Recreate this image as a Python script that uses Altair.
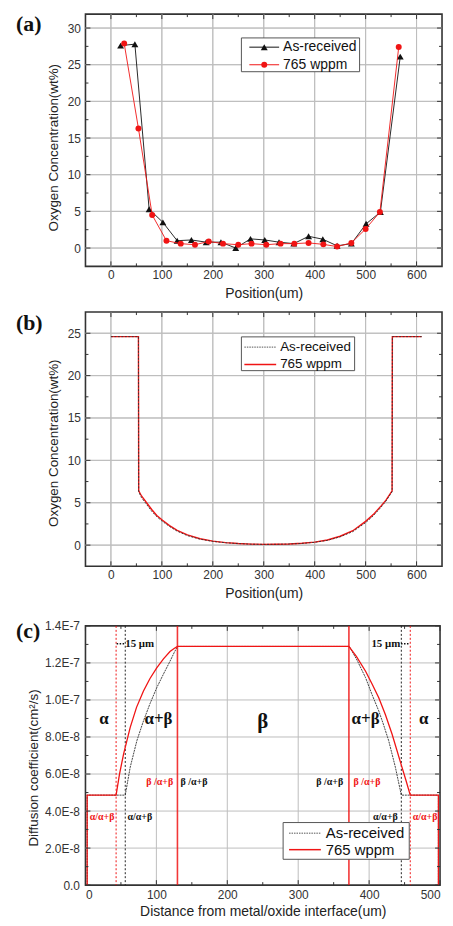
import altair as alt
import pandas as pd

# ---------------- data: panel (a) ----------------
A_AS_X = [19, 47, 75, 102, 130, 158, 187, 216, 245, 274, 302, 330, 359, 388, 416, 444, 472, 501, 529, 568]
A_AS_Y = [27.6, 27.8, 5.3, 3.5, 1.0, 1.1, 0.8, 0.8, 0.0, 1.25, 1.1, 0.8, 0.6, 1.6, 1.2, 0.3, 0.6, 3.3, 4.9, 26.1]
A_765_X = [26, 54, 81, 109, 137, 165, 192, 220, 250, 276, 305, 333, 360, 388, 417, 444, 472, 500, 528, 565]
A_765_Y = [27.9, 16.3, 4.5, 1.0, 0.6, 0.45, 0.9, 0.6, 0.45, 0.6, 0.45, 0.6, 0.6, 0.7, 0.5, 0.2, 0.7, 2.6, 4.9, 27.4]
A_X_DOMAIN = [-50, 650]
A_Y_DOMAIN = [-2.5, 31.9]
A_X_MAJOR = [0, 100, 200, 300, 400, 500, 600]
A_X_MINOR = [50, 150, 250, 350, 450, 550]
A_Y_MAJOR = [0, 5, 10, 15, 20, 25, 30]
A_Y_MINOR = [2.5, 7.5, 12.5, 17.5, 22.5, 27.5]

# ---------------- data: panel (b) ----------------
B_X = [0, 54, 54.5, 60, 70, 80, 90, 100, 115, 130, 150, 175, 200, 225, 250, 275, 300,
       325, 350, 375, 400, 425, 450, 475, 500, 515, 530, 540, 552, 552.5, 610]
B_765_Y = [24.6, 24.6, 6.4, 5.8, 5.0, 4.2, 3.5, 3.0, 2.3, 1.75, 1.2, 0.75, 0.47, 0.3, 0.19, 0.12, 0.09,
           0.1, 0.14, 0.22, 0.35, 0.6, 1.05, 1.7, 2.8, 3.6, 4.6, 5.3, 6.4, 24.6, 24.6]
B_AS_Y = [24.6, 24.6, 6.3, 5.6, 4.8, 4.0, 3.35, 2.85, 2.2, 1.65, 1.12, 0.7, 0.44, 0.28, 0.18, 0.11, 0.09,
          0.1, 0.13, 0.2, 0.33, 0.56, 0.98, 1.6, 2.65, 3.45, 4.45, 5.2, 6.3, 24.6, 24.6]
B_X_DOMAIN = [-50, 650]
B_Y_DOMAIN = [-2.5, 27.5]
B_Y_MAJOR = [0, 5, 10, 15, 20, 25]
B_Y_MINOR = [2.5, 7.5, 12.5, 17.5, 22.5]

# ---------------- data: panel (c) ----------------
C_765_X = [2.4, 2.4, 43.2, 48, 53.8, 63.1, 72, 81.8, 91, 100.5, 110, 119.2, 125, 129.7,
           371.5, 382, 395, 404, 413.6, 423, 432.3, 446.3, 452, 458, 497.7, 497.7]
C_765_Y = [0, 4.86e-8, 4.86e-8, 6.0e-8, 7.09e-8, 8.52e-8, 9.6e-8, 1.048e-7, 1.116e-7, 1.173e-7, 1.222e-7,
           1.262e-7, 1.278e-7, 1.289e-7, 1.289e-7, 1.235e-7, 1.155e-7, 1.088e-7, 1.012e-7, 9.2e-8, 8.16e-8,
           6.37e-8, 5.65e-8, 4.86e-8, 4.86e-8, 0]
C_AS_X = [2.4, 2.4, 56.1, 63.1, 72.5, 81.8, 91, 100.5, 110, 119.2, 125, 129.7,
          372, 383, 395, 404, 413.6, 420, 427.6, 437, 445.4, 497.7, 497.7]
C_AS_Y = [0, 4.86e-8, 4.86e-8, 6.37e-8, 7.8e-8, 8.87e-8, 9.8e-8, 1.066e-7, 1.14e-7, 1.209e-7, 1.255e-7,
          1.289e-7, 1.289e-7, 1.215e-7, 1.12e-7, 1.03e-7, 9.41e-8, 8.7e-8, 7.8e-8, 6.37e-8, 4.86e-8,
          4.86e-8, 0]
C_VL_RED_DOT = [43.2, 458]
C_VL_BLK_DOT = [56.1, 445.4]
C_VL_RED_SOLID = [129.7, 371.5]
C_X_MAJOR = [0, 100, 200, 300, 400, 500]
C_X_MINOR = [50, 150, 250, 350, 450]
C_Y_MAJOR = [0, 2e-8, 4e-8, 6e-8, 8e-8, 1e-7, 1.2e-7, 1.4e-7]
C_Y_MINOR = [1e-8, 3e-8, 5e-8, 7e-8, 9e-8, 1.1e-7, 1.3e-7]
C_Y_LABELS = ["0.0", "2.0E-8", "4.0E-8", "6.0E-8", "8.0E-8", "1.0E-7", "1.2E-7", "1.4E-7"]

PHASE_TXT = ["α", "α+β", "α+β", "α"]
PHASE_X = [26, 103, 395, 477]
PHASE_Y = [8.97e-8, 8.97e-8, 8.97e-8, 8.97e-8]
BETA_TXT = ["β"]
BETA_X = [250]
BETA_Y = [8.8e-8]
RED_TXT = ["β /α+β", "β /α+β", "α/α+β", "α/α+β"]
RED_X = [104.7, 397, 23.5, 479]
RED_Y = [5.57e-8, 5.57e-8, 3.66e-8, 3.66e-8]
BLK_TXT = ["β /α+β", "β /α+β", "α/α+β", "α/α+β"]
BLK_X = [153, 344.5, 76.7, 423]
BLK_Y = [5.57e-8, 5.57e-8, 3.66e-8, 3.66e-8]
UM_TXT_L = ["15 μm"]
UM_X_L = [56]
UM_TXT_R = ["15 μm"]
UM_X_R = [444]
UM_Y = [1.304e-7]
ARROW_X1 = [44, 445]
ARROW_X2 = [55, 457]

LEGEND = ["As-received", "765 wppm"]

# ---------------- style ----------------
RED = "#f01414"
BLK = "#111111"
FRAME = "#333333"
GRID = "#bdbdbd"
SANS = "Liberation Sans"
SERIF = "Liberation Serif"
W = 359


def df(**cols):
    return pd.DataFrame(cols)


def grid_rule_layers(X, Y, xmaj, ymaj, w, h):
    return [
        alt.Chart(df(gx=[float(v) for v in xmaj])).mark_rule(color=GRID, strokeWidth=1).encode(
            x=X("gx"), y=alt.value(0), y2=alt.value(h)),
        alt.Chart(df(gy=[float(v) for v in ymaj])).mark_rule(color=GRID, strokeWidth=1).encode(
            y=Y("gy"), x=alt.value(0), x2=alt.value(w)),
    ]


def grid_line_layer(X, Y, xmaj, ymaj, xdom, ydom):
    # each grid line is a two-point polyline spanning the scale domain
    g, xs_, ys_ = [], [], []
    for v in xmaj:
        for yy in ydom:
            g.append("vx%s" % v)
            xs_.append(float(v))
            ys_.append(float(yy))
    for v in ymaj:
        for xx in xdom:
            g.append("hy%s" % v)
            xs_.append(float(xx))
            ys_.append(float(v))
    d = df(glx=xs_, gly=ys_, gid=g)
    return alt.Chart(d).mark_line(color=GRID, strokeWidth=1).encode(
        x=X("glx"), y=Y("gly"), detail="gid:N")


def tick_layers(X, Y, xmaj, xmin, ymaj, ymin, w, h):
    out = []
    for vals, L in ((xmaj, 5), (xmin, 3)):
        d = df(x=vals)
        out.append(alt.Chart(d).mark_rule(color=FRAME, strokeWidth=1).encode(
            x=X("x"), y=alt.value(h), y2=alt.value(h - L)))
        out.append(alt.Chart(d).mark_rule(color=FRAME, strokeWidth=1).encode(
            x=X("x"), y=alt.value(0), y2=alt.value(L)))
    for vals, L in ((ymaj, 5), (ymin, 3)):
        d = df(y=vals)
        out.append(alt.Chart(d).mark_rule(color=FRAME, strokeWidth=1).encode(
            y=Y("y"), x=alt.value(0), x2=alt.value(L)))
        out.append(alt.Chart(d).mark_rule(color=FRAME, strokeWidth=1).encode(
            y=Y("y"), x=alt.value(w), x2=alt.value(w - L)))
    return out


def panel_label(txt, dy):
    return alt.Chart(df(t=[txt])).mark_text(
        font=SERIF, fontSize=22, fontWeight="bold", align="left", baseline="middle", color="#111"
    ).encode(text="t:N", x=alt.value(-70), y=alt.value(dy))


def legend_layers(box, rows, fs, line_x, text_x, styles):
    out = [alt.Chart(df(k=[0])).mark_rect(fill="white", stroke="#555", strokeWidth=1).encode(
        x=alt.value(box[0]), x2=alt.value(box[1]), y=alt.value(box[2]), y2=alt.value(box[3]))]
    for lab, ry, st in zip(LEGEND, rows, styles):
        rule_kw = dict(color=st["color"], strokeWidth=st.get("width", 1))
        if "dash" in st:
            rule_kw["strokeDash"] = st["dash"]
        out.append(alt.Chart(df(k=[0])).mark_rule(**rule_kw).encode(
            x=alt.value(line_x[0]), x2=alt.value(line_x[1]), y=alt.value(ry)))
        if "shape" in st:
            out.append(alt.Chart(df(k=[0])).mark_point(
                shape=st["shape"], filled=True, size=st["size"], color=st["color"], opacity=1).encode(
                x=alt.value((line_x[0] + line_x[1]) / 2), y=alt.value(ry)))
        out.append(alt.Chart(df(t=[lab])).mark_text(
            font=SANS, fontSize=fs, align="left", baseline="middle", color="#111").encode(
            text="t:N", x=alt.value(text_x), y=alt.value(ry)))
    return out


def make_enc(scale, axis, cls):
    def f(field):
        return cls(field + ":Q", scale=scale, axis=axis)
    return f


# ---------------- panel (a) ----------------
HA = 254
XA = make_enc(alt.Scale(domain=A_X_DOMAIN, nice=False, zero=False),
              alt.Axis(values=A_X_MAJOR, title="Position(um)", labelPadding=3, titlePadding=6), alt.X)
YA = make_enc(alt.Scale(domain=A_Y_DOMAIN, nice=False, zero=False),
              alt.Axis(values=A_Y_MAJOR, title="Oxygen Concentration(wt%)", labelPadding=5,
                       titleX=-25, titleY=134), alt.Y)
dA1 = df(x=A_AS_X, y=A_AS_Y)
dA2 = df(x=A_765_X, y=A_765_Y)
a_layers = [grid_line_layer(XA, YA, A_X_MAJOR, A_Y_MAJOR, A_X_DOMAIN, A_Y_DOMAIN)]
a_layers += grid_rule_layers(XA, YA, A_X_MAJOR, A_Y_MAJOR, W, HA)
a_layers += [
    alt.Chart(dA1).mark_line(color=BLK, strokeWidth=0.9).encode(x=XA("x"), y=YA("y")),
    alt.Chart(dA1).mark_point(shape="triangle-up", filled=True, size=48, color=BLK, opacity=1).encode(
        x=XA("x"), y=YA("y")),
    alt.Chart(dA2).mark_line(color=RED, strokeWidth=0.9).encode(x=XA("x"), y=YA("y")),
    alt.Chart(dA2).mark_point(shape="circle", filled=True, size=36, color=RED, opacity=1).encode(
        x=XA("x"), y=YA("y")),
]
a_layers += tick_layers(XA, YA, A_X_MAJOR, A_X_MINOR, A_Y_MAJOR, A_Y_MINOR, W, HA)
a_layers += legend_layers((157, 276, 24, 58), (33.3, 51), 14, (165, 195), 199,
                          [dict(color=BLK, shape="triangle-up", size=48),
                           dict(color=RED, shape="circle", size=36)])
a_layers.append(panel_label("(a)", 10))
panel_a = alt.layer(*a_layers).properties(width=W, height=HA)

# ---------------- panel (b) ----------------
HB = 256
XB = make_enc(alt.Scale(domain=B_X_DOMAIN, nice=False, zero=False),
              alt.Axis(values=A_X_MAJOR, title="Position(um)", labelPadding=3, titlePadding=6), alt.X)
YB = make_enc(alt.Scale(domain=B_Y_DOMAIN, nice=False, zero=False),
              alt.Axis(values=B_Y_MAJOR, title="Oxygen Concentration(wt%)", labelPadding=5,
                       titleX=-25, titleY=131.5), alt.Y)
idx = list(range(len(B_X)))
dB1 = df(x=B_X, y=B_765_Y, i=idx)
dB2 = df(x=B_X, y=B_AS_Y, i=idx)
b_layers = [grid_line_layer(XB, YB, A_X_MAJOR, B_Y_MAJOR, B_X_DOMAIN, B_Y_DOMAIN)]
b_layers += grid_rule_layers(XB, YB, A_X_MAJOR, B_Y_MAJOR, W, HB)
b_layers += [
    alt.Chart(dB1).mark_line(color=RED, strokeWidth=1.4).encode(x=XB("x"), y=YB("y"), order="i:Q"),
    alt.Chart(dB2).mark_line(color="#333", strokeWidth=0.9, strokeDash=[2, 1.5]).encode(
        x=XB("x"), y=YB("y"), order="i:Q"),
]
b_layers += tick_layers(XB, YB, A_X_MAJOR, A_X_MINOR, B_Y_MAJOR, B_Y_MINOR, W, HB)
b_layers += legend_layers((157, 271, 25, 59), (35.3, 52.7), 13.5, (160, 192), 196,
                          [dict(color="#555", width=1, dash=[1.5, 1]),
                           dict(color=RED, width=1.5)])
b_layers.append(panel_label("(b)", 11))
panel_b = alt.layer(*b_layers).properties(width=W, height=HB)

# ---------------- panel (c) ----------------
WC = 357
HC = 261
label_expr = "[" + ",".join("'" + s + "'" for s in C_Y_LABELS) + "][round(datum.value / 2e-8)]"
XC = make_enc(alt.Scale(domain=[0, 500], nice=False, zero=False),
              alt.Axis(values=C_X_MAJOR, title="Distance from metal/oxide interface(um)",
                       labelPadding=4, titlePadding=5), alt.X)
YC = make_enc(alt.Scale(domain=[0, 1.4e-7], nice=False, zero=False),
              alt.Axis(values=C_Y_MAJOR, title="Diffusion coefficient(cm²/s)", labelPadding=6,
                       labelExpr=label_expr, titleX=-45, titleY=142.5), alt.Y)


def vlines(vals, **kw):
    return alt.Chart(df(x=vals)).mark_rule(**kw).encode(x=XC("x"), y=alt.value(0), y2=alt.value(HC))


def texts(txt, xs_, ys_, **kw):
    return alt.Chart(df(t=txt, x=xs_, y=ys_)).mark_text(font=SERIF, fontWeight="bold", **kw).encode(
        x=XC("x"), y=YC("y"), text="t:N")


dC1 = df(x=C_AS_X, y=C_AS_Y, i=list(range(len(C_AS_X))))
dC2 = df(x=C_765_X, y=C_765_Y, i=list(range(len(C_765_X))))
c_layers = grid_rule_layers(XC, YC, C_X_MAJOR[1:-1], C_Y_MAJOR[1:-1], WC, HC) + [
    alt.Chart(dC1).mark_line(color="#444", strokeWidth=1.0, strokeDash=[2, 0.8]).encode(
        x=XC("x"), y=YC("y"), order="i:Q"),
    vlines(C_VL_RED_DOT, color=RED, strokeWidth=1, strokeDash=[2, 2]),
    vlines(C_VL_BLK_DOT, color="#222", strokeWidth=1, strokeDash=[2, 2]),
    vlines(C_VL_RED_SOLID, color=RED, strokeWidth=1.6, opacity=0.85),
    alt.Chart(dC2).mark_line(color=RED, strokeWidth=1.3).encode(x=XC("x"), y=YC("y"), order="i:Q"),
    texts(PHASE_TXT, PHASE_X, PHASE_Y, fontSize=17, color="#111"),
    texts(BETA_TXT, BETA_X, BETA_Y, fontSize=21, color="#111"),
    texts(RED_TXT, RED_X, RED_Y, fontSize=10, color=RED),
    texts(BLK_TXT, BLK_X, BLK_Y, fontSize=10, color="#111"),
    texts(UM_TXT_L, UM_X_L, UM_Y, fontSize=11, color="#111", align="left"),
    texts(UM_TXT_R, UM_X_R, UM_Y, fontSize=11, color="#111", align="right"),
    alt.Chart(df(x=ARROW_X1, x2=ARROW_X2, y=UM_Y * 2)).mark_rule(
        color="#111", strokeWidth=1.6, strokeDash=[1.5, 1.5]).encode(
        x=XC("x"), x2="x2:Q", y=YC("y")),
]
c_layers += tick_layers(XC, YC, C_X_MAJOR, C_X_MINOR, C_Y_MAJOR, C_Y_MINOR, WC, HC)
c_layers += legend_layers((199, 326, 198, 235), (208.7, 225.3), 15, (205, 237), 242,
                          [dict(color="#555", width=1, dash=[1.5, 1]),
                           dict(color=RED, width=1.5)])
c_layers.append(panel_label("(c)", 5))
panel_c = alt.layer(*c_layers).properties(width=WC, height=HC)


def spacer(h):
    return alt.Chart(df(v=[0])).mark_point(opacity=0).encode(
        x=alt.X("v:Q", axis=None), y=alt.Y("v:Q", axis=None)
    ).properties(width=W, height=h, view=alt.ViewBackground(stroke="transparent"))


chart = alt.vconcat(
    panel_a, spacer(46), panel_b, spacer(60), panel_c, spacing=0, bounds="flush"
).properties(
    padding={"left": 7, "top": 0, "right": 0, "bottom": 0}
).configure_view(
    stroke=FRAME, strokeWidth=1.6
).configure_axis(
    grid=False, ticks=False, domain=False,
    labelFont=SANS, labelFontSize=12, labelColor="#333",
    titleFont=SANS, titleFontSize=14, titleFontWeight="normal", titleColor="#222"
).configure_axisY(
    titleFontSize=13.5
)

chart.save("out.html", embed_options={"renderer": "svg", "actions": False})
